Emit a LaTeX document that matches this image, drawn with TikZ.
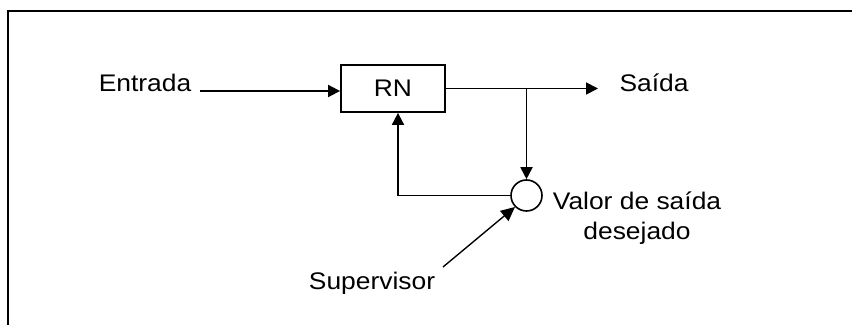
\documentclass[tikz,border=0pt]{standalone}
\usepackage{fontspec}
\setmainfont{Liberation Sans}[FakeStretch=1.1]
\usetikzlibrary{arrows.meta}
\begin{document}
\begin{tikzpicture}[x=0.5pt,y=-0.5pt,
  lbl/.style={inner sep=0pt,font=\fontsize{12}{15}\selectfont},
  flow/.style={line width=0.9pt,-{Triangle[length=6pt,width=6pt]}}]
\useasboundingbox (0,0) rectangle (852,325);
\draw[line width=1.2pt] (8,330) -- (8,11) -- (860,11);
\node[draw,line width=0.9pt,minimum width=52pt,minimum height=23.5pt,lbl] (rn) at (393,88.5) {RN};
\node[lbl] (entrada) at (145,83) {Entrada};
\node[lbl] (saida) at (654,83) {Saída};
\node[draw,circle,line width=0.8pt,minimum size=15.5pt,inner sep=0pt] (sum) at (526.5,195.5) {};
\node[lbl,align=center] (valor) at (637,218) {Valor de saída\\desejado};
\node[lbl] (supervisor) at (372,283) {Supervisor};
\coordinate (in) at (200,91);
\coordinate (out) at (598,88.5);
\coordinate (junc) at (526.5,88.5);
\coordinate (fb) at (398,195.5);
\coordinate (sup) at (443,267);
\draw[flow] (in) -- (in -| rn.west);
\draw[flow] (rn.east) -- (out);
\draw[flow] (junc) -- (sum.north);
\draw[flow] (sum.west) -- (fb) -- (fb |- rn.south);
\draw[line width=0.7pt,-{Triangle[length=7pt,width=6.5pt]}] (sup) -- (sum.225);
\end{tikzpicture}
\end{document}
